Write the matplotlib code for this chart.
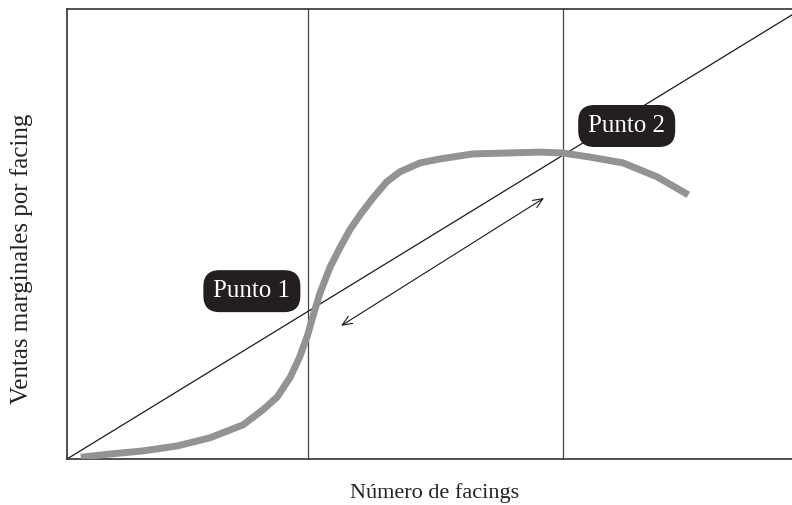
import matplotlib
matplotlib.use("Agg")
import matplotlib.pyplot as plt

# curva de ventas marginales (escala 0-100)
curva_x = [1.9, 5.9, 10.5, 15.2, 19.7, 24.3, 27.0, 29.0, 30.8, 32.1, 33.2,
           33.9, 34.9, 36.3, 37.7, 39.0, 40.4, 42.2, 44.1, 45.9, 48.7, 51.5,
           56.0, 60.7, 65.2, 68.4, 72.1, 76.7, 81.4, 85.7]
curva_y = [0.4, 1.1, 1.8, 2.9, 4.7, 7.6, 10.9, 13.8, 18.2, 22.7, 27.6,
           31.6, 36.9, 42.7, 47.1, 50.9, 54.2, 58.0, 61.6, 63.8, 65.8, 66.7,
           67.8, 68.0, 68.2, 68.0, 67.1, 65.8, 62.7, 58.7]

# recta de costes
recta_x = [0, 100]
recta_y = [0, 98.7]

# puntos de corte
cortes_x = [33.2, 68.4]

# flecha doble
flecha_ini = (37.8, 29.6)
flecha_fin = (65.8, 58.0)

etiquetas = ["Punto 1", "Punto 2"]
etiq_x = [25.5, 77.2]
etiq_y = [37.3, 74.0]

fig = plt.figure(figsize=(7.92, 5.05), dpi=100)
ax = fig.add_axes([67 / 792, 1 - 459 / 505, 725 / 792, 450 / 505])
ax.set_xlim(0, 100)
ax.set_ylim(0, 100)

for s in ["left", "bottom", "top"]:
    ax.spines[s].set_color("#333333")
    ax.spines[s].set_linewidth(1.2)
ax.spines["right"].set_visible(False)
ax.set_xticks([])
ax.set_yticks([])

for cx in cortes_x:
    ax.axvline(cx, color="#444444", lw=0.9, zorder=1)

ax.plot(recta_x, recta_y, color="#1a1a1a", lw=0.9, zorder=2, clip_on=False)
ax.plot(curva_x, curva_y, color="#939393", lw=5, zorder=3,
        solid_capstyle="butt", solid_joinstyle="round")

ax.annotate("", xy=flecha_ini, xytext=flecha_fin,
            arrowprops=dict(arrowstyle="<->,head_length=0.7,head_width=0.3",
                            color="#1a1a1a", lw=0.8, shrinkA=0, shrinkB=0))

for t, x, y in zip(etiquetas, etiq_x, etiq_y):
    ax.text(x, y, t, ha="center", va="center", color="white",
            fontsize=18, family="Liberation Serif", zorder=5,
            bbox=dict(boxstyle="round,pad=0.4,rounding_size=0.65",
                      fc="#231f20", ec="none"))

fig.text(435 / 792, 1 - 493 / 505, "Número de facings", ha="center",
         va="center", fontsize=16, family="Liberation Serif", color="#222222")
fig.text(22 / 792, 1 - 259 / 505, "Ventas marginales por facing",
         ha="center", va="center", rotation=90, fontsize=18,
         family="Liberation Serif", color="#222222")

fig.savefig("out.png", dpi=100)
